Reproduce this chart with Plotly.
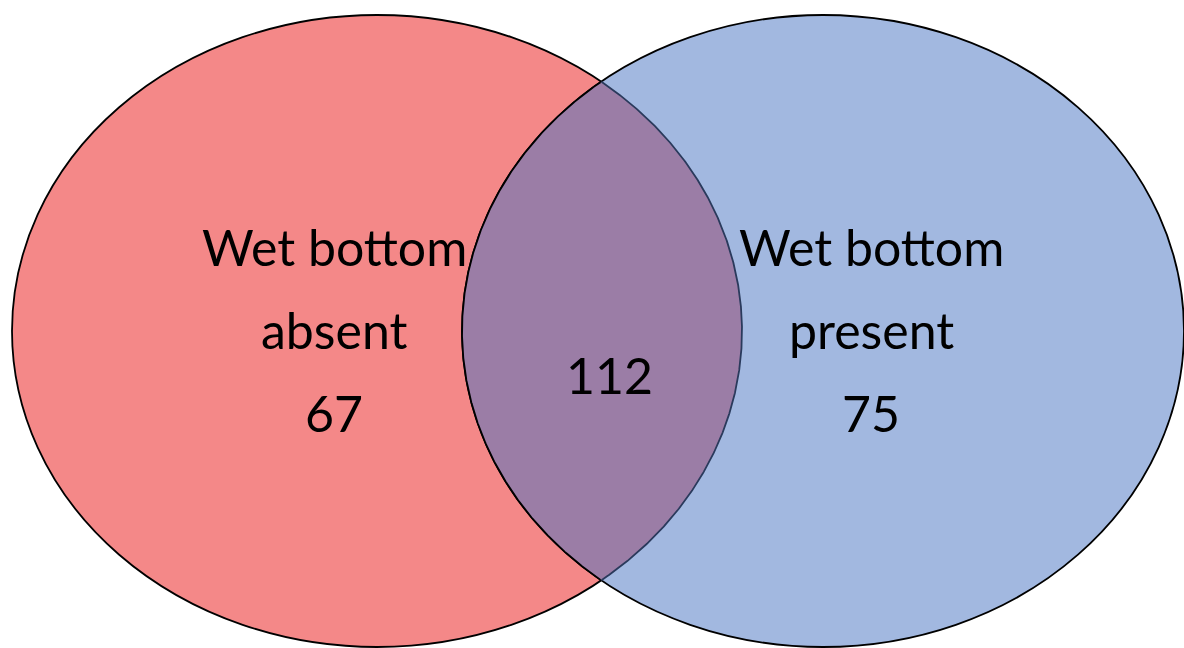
import numpy as np
import plotly.graph_objects as go

# Data
set_names = ["Wet bottom<br>absent", "Wet bottom<br>present"]
only_counts = [67, 75]
shared_count = 112

W, H = 1184, 648
# ellipse geometry (pixel space)
L = dict(cx=377, cy=331, a=365, b=316)
R = dict(cx=823, cy=331, a=361, b=316)

RED = "#F48888"
BLUE = "#A2B8E0"
MIX = "#9B7DA6"

fig = go.Figure()

def ell_shape(e, fill):
    return dict(type="circle", xref="x", yref="y",
                x0=e["cx"] - e["a"], x1=e["cx"] + e["a"],
                y0=e["cy"] - e["b"], y1=e["cy"] + e["b"],
                fillcolor=fill, line=dict(color="black", width=1.8), layer="below")

fig.add_shape(**ell_shape(L, RED))
fig.add_shape(**ell_shape(R, BLUE))

# lens (intersection) region
t = np.linspace(0, 2 * np.pi, 2000)
def inside(e, x, y):
    return ((x - e["cx"]) / e["a"]) ** 2 + ((y - e["cy"]) / e["b"]) ** 2 <= 1.0

xl = L["cx"] + L["a"] * np.cos(t); yl = L["cy"] + L["b"] * np.sin(t)
mask_l = inside(R, xl, yl)
xr = R["cx"] + R["a"] * np.cos(t); yr = R["cy"] + R["b"] * np.sin(t)
mask_r = inside(L, xr, yr)

arcL_x = xl[mask_l]; arcL_y = yl[mask_l]
oL = np.argsort(arcL_y); arcL_x, arcL_y = arcL_x[oL], arcL_y[oL]
arcR_x = xr[mask_r]; arcR_y = yr[mask_r]
oR = np.argsort(-arcR_y); arcR_x, arcR_y = arcR_x[oR], arcR_y[oR]

lens_x = np.concatenate([arcL_x, arcR_x, arcL_x[:1]])
lens_y = np.concatenate([arcL_y, arcR_y, arcL_y[:1]])
fig.add_trace(go.Scatter(x=lens_x, y=lens_y, mode="lines", fill="toself",
                         fillcolor=MIX, line=dict(width=0), hoverinfo="skip",
                         showlegend=False))
fig.add_trace(go.Scatter(x=arcL_x, y=arcL_y, mode="lines",
                         line=dict(color="#2A3A5C", width=1.8), hoverinfo="skip",
                         showlegend=False))
fig.add_trace(go.Scatter(x=arcR_x, y=arcR_y, mode="lines",
                         line=dict(color="black", width=1.8), hoverinfo="skip",
                         showlegend=False))

FONT = dict(family="Lato, Carlito, sans-serif", size=50, color="black")
line_h = 83
def label(lines, cx, top_base):
    for i, s in enumerate(lines):
        fig.add_annotation(x=cx, y=top_base + i * line_h, text=s, showarrow=False,
                           xanchor="center", yanchor="middle", font=FONT,
                           xref="x", yref="y")

label(set_names[0].split("<br>") + [str(only_counts[0])], 334, 247)
label(set_names[1].split("<br>") + [str(only_counts[1])], 871, 247)
label([str(shared_count)], 609, 375)

fig.update_xaxes(range=[0, W], visible=False, fixedrange=True)
fig.update_yaxes(range=[H, 0], visible=False, fixedrange=True)
fig.update_layout(width=W, height=H, margin=dict(l=0, r=0, t=0, b=0),
                  plot_bgcolor="white", paper_bgcolor="white", showlegend=False)

fig.write_html("out.html", config={"displayModeBar": False},
               post_script="document.body.style.margin='0';document.body.style.overflow='hidden';")
